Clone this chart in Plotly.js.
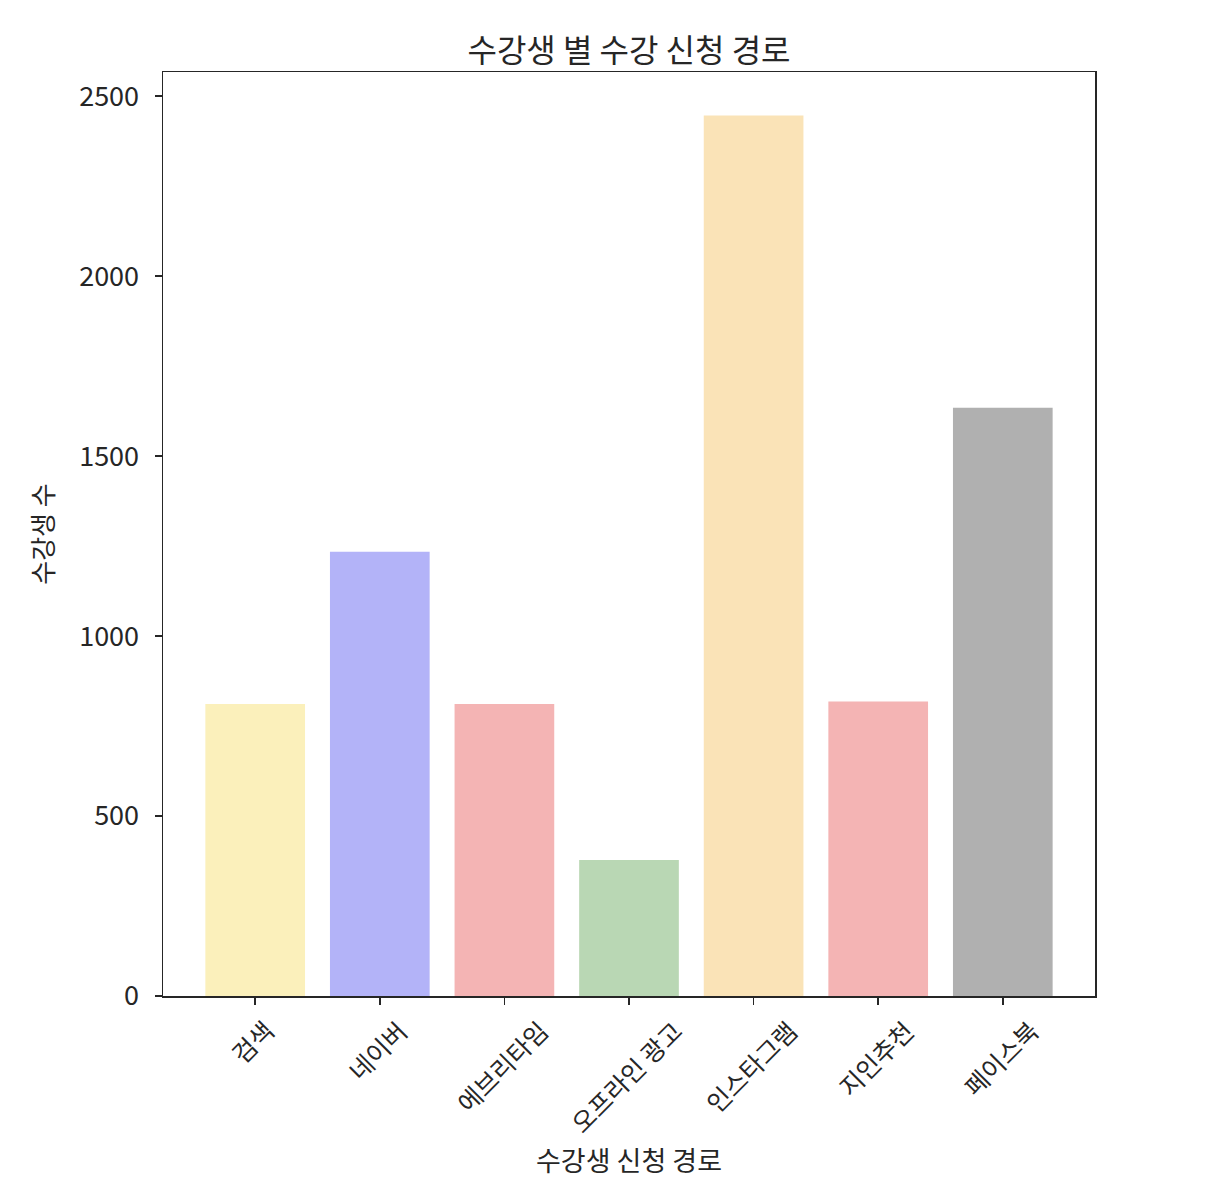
<!DOCTYPE html>
<html>
<head>
<meta charset="utf-8">
<script src="https://cdn.plot.ly/plotly-3.0.1.min.js"></script>
<style>html,body{margin:0;padding:0;background:#fff;}#chart{width:1206px;height:1202px;}</style>
</head>
<body>
<div id="chart"></div>
<script>
const categories = ["검색", "네이버", "에브리타임", "오프라인 광고", "인스타그램", "지인추천", "페이스북"];
const students = [811, 1234, 811, 378, 2446, 818, 1634];
const barColors = ["#FBF0BB", "#B3B3F8", "#F4B4B4", "#B9D7B4", "#FAE3B7", "#F4B4B4", "#B0B0B0"];
const titleText = "수강생 별 수강 신청 경로";
const xTitle = "수강생 신청 경로";
const yTitle = "수강생 수";
const yTicks = [0, 500, 1000, 1500, 2000, 2500];

const FONT = "'Noto Sans CJK KR', 'Noto Sans', sans-serif";
const INK = "#262626";
const FS = 26;

const trace = {
  type: "bar",
  x: categories,
  y: students,
  marker: {color: barColors, line: {width: 0}},
  width: 0.8,
  hoverinfo: "x+y"
};

const tickAnnotations = categories.map(c => ({
  x: c, xref: "x",
  y: 0, yref: "paper",
  text: c,
  showarrow: false,
  textangle: -45,
  xanchor: "center",
  yanchor: "top",
  xshift: -3,
  yshift: -15,
  borderpad: 0,
  font: {family: FONT, size: 25, color: INK}
}));

const layout = {
  width: 1206,
  height: 1202,
  margin: {l: 163, r: 111, t: 72, b: 206},
  paper_bgcolor: "#ffffff",
  plot_bgcolor: "#ffffff",
  showlegend: false,
  font: {family: FONT, size: FS, color: INK},
  title: {
    text: titleText,
    font: {family: FONT, size: 32, color: INK},
    x: 0.5, xref: "paper", xanchor: "center",
    y: 1, yref: "paper", yanchor: "bottom", pad: {b: 10}
  },
  xaxis: {
    type: "category",
    categoryorder: "array",
    categoryarray: categories,
    range: [-0.74, 6.74],
    showticklabels: false,
    ticks: "outside", ticklen: 7, tickwidth: 1.5, tickcolor: INK,
    showline: true, linecolor: INK, linewidth: 1.5, mirror: true,
    showgrid: false, zeroline: false,
    title: {text: xTitle, font: {family: FONT, size: 27, color: INK}, standoff: 148}
  },
  yaxis: {
    range: [0, 2567],
    tickvals: yTicks,
    ticktext: yTicks.map(String),
    ticks: "outside", ticklen: 7, tickwidth: 1.5, tickcolor: INK,
    ticklabelstandoff: 10,
    showline: true, linecolor: INK, linewidth: 1.5, mirror: true,
    showgrid: false, zeroline: false,
    tickfont: {family: FONT, size: 27, color: INK},
    title: {text: yTitle, font: {family: FONT, size: FS, color: INK}, standoff: 18}
  },
  annotations: tickAnnotations
};

Plotly.newPlot("chart", [trace], layout, {displayModeBar: false, staticPlot: true});
</script>
</body>
</html>
